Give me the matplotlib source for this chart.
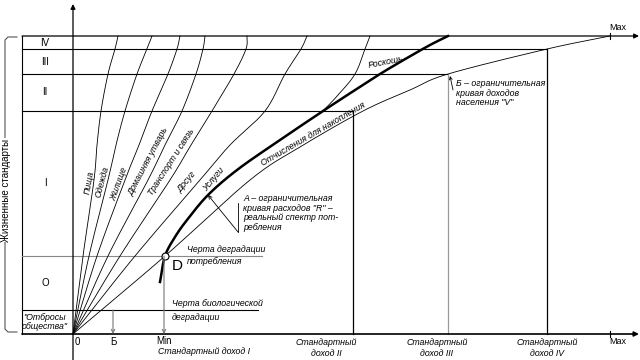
import numpy as np
import matplotlib.pyplot as plt

plt.rcParams['font.family'] = ['Liberation Sans', 'DejaVu Sans']

# spending curves: x position (px) at each height level
curve_y = [334, 256, 180, 145, 111, 74, 49, 36]
pishcha_x = [73, 83, 94, 97, 101, 108, 115, 118]
odezhda_x = [73, 89, 108, 116, 125, 137, 147, 152]
zhilishche_x = [73, 97, 125, 139, 152, 168, 177, 180]
utvar_x = [73, 108, 148, 165, 182, 196, 203, 205]
transport_x = [73, 120, 170, 191, 212, 234, 246, 247]
dosug_x = [73, 135, 200, 230, 265, 285, 301, 307]

uslugi_y = [112, 95, 74, 49, 36]
uslugi_x = [322, 338, 355, 365, 370]

# A: expense limit curve (bold)
a_x = [160, 165, 175, 187, 208, 237, 277, 323, 352, 380, 407, 430, 448]
a_y = [282, 256, 237, 220, 195, 170, 142, 111, 92, 74, 58, 45, 36]

# B: income limit curve
b_x = [73, 165, 250, 300, 363, 410, 448, 547, 610]
b_y = [334, 256, 180, 147, 111, 90, 74, 49, 36]

# living standard levels
level_y = [36, 49, 74, 111, 256, 310]
level_end = [638, 547, 448, 353, 262, 258]
level_names = ['IV', 'III', 'II', 'I', 'O']
level_mid = [43, 62, 92, 183, 283]

# standard incomes
std_x = [353, 448, 547]
std_top = [111, 74, 49]
std_color = ['black', '#999999', 'black']
std_names = ['Стандартный\nдоход II', 'Стандартный\nдоход III', 'Стандартный\nдоход IV']
std_label_x = [326, 437, 547]

cat_names = ['Пища', 'Одежда', 'Жилище', 'Домашняя утварь', 'Транспорт и связь', 'Досуг', 'Услуги']
cat_pos = [(89, 183), (102, 182), (119, 184), (149, 161), (171, 162), (187, 182), (214, 179)]
cat_rot = [80, 75, 70, 62, 57, 50, 50]


def smooth(xs, ys, n=25):
    P = np.column_stack([xs, ys]).astype(float)
    P = np.vstack([2 * P[0] - P[1], P, 2 * P[-1] - P[-2]])
    out = []
    t = np.linspace(0, 1, n)[:, None]
    for i in range(1, len(P) - 2):
        p0, p1, p2, p3 = P[i - 1:i + 3]
        seg = 0.5 * (2 * p1 + (-p0 + p2) * t + (2 * p0 - 5 * p1 + 4 * p2 - p3) * t ** 2
                     + (-p0 + 3 * p1 - 3 * p2 + p3) * t ** 3)
        out.append(seg)
    return np.vstack(out)


fig = plt.figure(figsize=(6.4, 3.6), dpi=100)
ax = fig.add_axes([0, 0, 1, 1])
ax.set_xlim(0, 640)
ax.set_ylim(360, 0)
ax.axis('off')

fs = 6.3
arrow = dict(arrowstyle='-|>', lw=0.9, color='black', mutation_scale=7, shrinkA=0, shrinkB=0)

# axes
ax.annotate('', xy=(73, 4), xytext=(73, 360), arrowprops=arrow)
ax.annotate('', xy=(639, 334), xytext=(22, 334), arrowprops=dict(arrow, lw=1.2))
ax.annotate('', xy=(639, 36), xytext=(22, 36), arrowprops=arrow)
ax.plot([22, 22], [36, 334], color='black', lw=0.8)
ax.plot([610, 610], [331, 337], color='black', lw=0.8)
ax.plot([610, 610], [33, 39], color='black', lw=0.8)

# level lines
for y, x1 in zip(level_y[1:], level_end[1:]):
    c = '#888888' if y == 256 else 'black'
    ax.plot([22, x1], [y, y], color=c, lw=0.8)
for name, ym in zip(level_names, level_mid):
    ax.text(45, ym, name, fontsize=7, ha='center', va='center')
ax.text(45, 322, '"Отбросы\nобщества"', fontsize=fs, style='italic', ha='center', va='center',
        linespacing=1.1)

# standard income verticals
for x, yt, c in zip(std_x, std_top, std_color):
    ax.plot([x, x], [yt, 334], color=c, lw=0.9)
for x, s in zip(std_label_x, std_names):
    ax.text(x, 348, s, fontsize=fs, style='italic', ha='center', va='center', linespacing=1.15)

# Min and B arrows
thin_arrow = dict(arrowstyle='->', lw=0.8, color='#777777', mutation_scale=6, shrinkA=0, shrinkB=0)
ax.annotate('', xy=(164, 334), xytext=(164, 256), arrowprops=thin_arrow)
ax.annotate('', xy=(113, 334), xytext=(113, 310), arrowprops=thin_arrow)
ax.text(77, 342, '0', fontsize=7, ha='center', va='center')
ax.text(113, 342, 'Б', fontsize=7, ha='center', va='center')
ax.text(164, 341, 'Min', fontsize=7, ha='center', va='center')
ax.text(204, 352, 'Стандартный доход I', fontsize=fs, style='italic', ha='center', va='center')
ax.text(618, 342, 'Max', fontsize=6.5, ha='center', va='center')
ax.text(618, 28, 'Max', fontsize=6.5, ha='center', va='center')

# spending curves
for xs in [pishcha_x, odezhda_x, zhilishche_x, utvar_x, transport_x, dosug_x]:
    pts = smooth(xs, curve_y)
    ax.plot(pts[:, 0], pts[:, 1], color='black', lw=0.6)
pts = smooth(uslugi_x, uslugi_y)
ax.plot(pts[:, 0], pts[:, 1], color='black', lw=0.6)
pts = smooth(b_x, b_y)
ax.plot(pts[:, 0], pts[:, 1], color='black', lw=0.6)
pts = smooth(a_x, a_y)
ax.plot(pts[:, 0], pts[:, 1], color='black', lw=1.8)

for name, (x, y), r in zip(cat_names, cat_pos, cat_rot):
    ax.text(x, y, name, fontsize=fs, style='italic', rotation=r, ha='center', va='center',
            rotation_mode='anchor')
ax.text(313, 134, 'Отчисления для накопления', fontsize=fs, style='italic', rotation=30,
        ha='center', va='center', rotation_mode='anchor')
ax.text(386, 62, 'Роскошь', fontsize=fs, style='italic', rotation=11,
        ha='center', va='center', rotation_mode='anchor')

# point D
ax.plot(165, 256, 'o', ms=5, mfc='white', mec='black', mew=0.8)
ax.text(172, 266, 'D', fontsize=11, ha='left', va='center')
ax.text(187, 250, 'Черта деградации', fontsize=fs, style='italic', ha='left', va='center')
ax.text(187, 262, 'потребления', fontsize=fs, style='italic', ha='left', va='center')
ax.text(172, 304, 'Черта биологической', fontsize=fs, style='italic', ha='left', va='center')
ax.text(172, 317, 'деградации', fontsize=fs, style='italic', ha='left', va='center')

# A label
ax.plot([238, 238], [203, 232], color='black', lw=0.6)
ax.annotate('', xy=(208, 195), xytext=(238, 232),
            arrowprops=dict(arrowstyle='->', lw=0.6, color='black', mutation_scale=6, shrinkA=0, shrinkB=0))
ax.text(243, 213, 'А – ограничительная\nкривая расходов "R" –\nреальный спектр пот-\nребления',
        fontsize=fs, style='italic', ha='left', va='center', linespacing=1.1)

# B label
ax.annotate('', xy=(450, 76), xytext=(453, 90),
            arrowprops=dict(arrowstyle='->', lw=0.6, color='black', mutation_scale=5, shrinkA=0, shrinkB=0))
ax.text(456, 93, 'Б – ограничительная\nкривая доходов\nнаселения "V"',
        fontsize=fs, style='italic', ha='left', va='center', linespacing=1.1)

# living standards bracket
ax.plot([17, 8, 5, 5, 8, 17], [37, 37, 40, 329, 332, 332], color='#555555', lw=0.8)
ax.text(6, 190, 'Жизненные стандарты', fontsize=7, rotation=90, ha='center', va='center',
        bbox=dict(facecolor='white', edgecolor='none', pad=0.5))

fig.savefig('out.png', dpi=100)
